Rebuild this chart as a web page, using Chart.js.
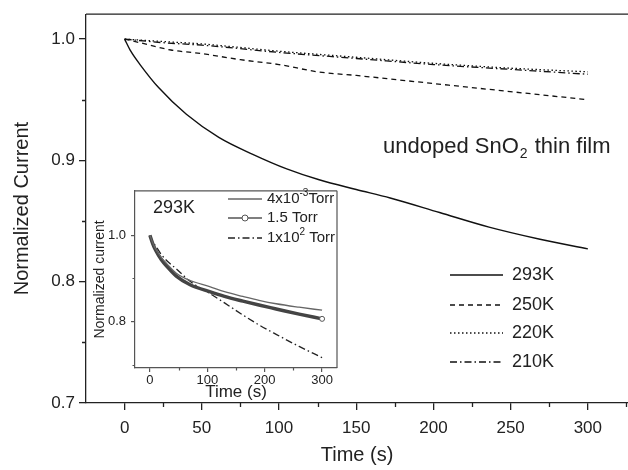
<!DOCTYPE html>
<html>
<head>
<meta charset="utf-8">
<script src="https://cdn.jsdelivr.net/npm/chart.js@4.4.0/dist/chart.umd.min.js"></script>
<style>
  html, body { margin: 0; padding: 0; background: #fff; overflow: hidden; }
  #wrap { position: relative; width: 628px; height: 470px; }
  #main { position: absolute; left: 0; top: 0; }
  #inset { position: absolute; left: 90px; top: 178px; }
</style>
</head>
<body>
<div id="wrap">
  <canvas id="main" width="628" height="470"></canvas>
  <canvas id="inset" width="252" height="226"></canvas>
</div>
<script>
// main plot: normalized current vs time at 4 temperatures
var t293 = [0, 4, 10, 22, 40, 61, 83, 105, 126, 150, 172, 204, 236, 269, 300];
var v293 = [1.0, 0.99, 0.979, 0.96, 0.938, 0.919, 0.905, 0.893, 0.884, 0.876, 0.869, 0.857, 0.845, 0.835, 0.827];
var t250 = [0, 10, 30, 50, 75, 100, 125, 150, 180, 210, 240, 270, 300];
var v250 = [1.0, 0.997, 0.991, 0.988, 0.983, 0.979, 0.973, 0.970, 0.966, 0.962, 0.958, 0.954, 0.950];
var t220 = [0, 25, 50, 100, 150, 200, 250, 300];
var v220 = [1.0, 0.998, 0.996, 0.990, 0.985, 0.980, 0.976, 0.973];
var t210 = [0, 25, 50, 100, 150, 200, 250, 300];
var v210 = [1.0, 0.997, 0.995, 0.989, 0.984, 0.979, 0.975, 0.971];

// inset: 293K at three pressures
var tIns = [0, 5, 10, 20, 30, 46, 70, 104, 130, 162, 190, 220, 260, 300];
var v4e3 = [1.0, 0.982, 0.968, 0.948, 0.933, 0.912, 0.895, 0.881, 0.869, 0.858, 0.849, 0.841, 0.833, 0.826];
var v15 = [1.0, 0.980, 0.965, 0.943, 0.927, 0.905, 0.885, 0.869, 0.858, 0.847, 0.838, 0.829, 0.817, 0.806];
var v1e2 = [1.0, 0.985, 0.975, 0.955, 0.940, 0.922, 0.893, 0.865, 0.843, 0.815, 0.792, 0.770, 0.742, 0.716];

var mainXTicks = [0, 50, 100, 150, 200, 250, 300];
var mainXMinor = [25, 75, 125, 175, 225, 275, 325];
var mainYTicks = [0.7, 0.8, 0.9, 1.0];
var mainYMinor = [0.75, 0.85, 0.95];
var insXTicks = [0, 100, 200, 300];
var insXMinor = [50, 150, 250];
var insYTicks = [0.8, 1.0];
var insYMinor = [0.7, 0.9];

var FONT = "'Liberation Sans', Arial, sans-serif";
var INK = '#222';

function pts(xs, ys) {
  return xs.map(function(x, i) { return {x: x, y: ys[i]}; });
}

// short minor ticks and the extra frame sides
var axisExtras = {
  id: 'axisExtras',
  afterDraw: function(chart, args, o) {
    var ctx = chart.ctx, a = chart.chartArea;
    var xs = chart.scales.x, ys = chart.scales.y;
    ctx.save();
    ctx.strokeStyle = o.color;
    ctx.lineWidth = o.width;
    ctx.beginPath();
    o.xMinor.forEach(function(v) {
      var px = Math.round(xs.getPixelForValue(v)) + 0.5;
      ctx.moveTo(px, a.bottom); ctx.lineTo(px, a.bottom + o.len);
    });
    o.yMinor.forEach(function(v) {
      var py = Math.round(ys.getPixelForValue(v)) + 0.5;
      ctx.moveTo(a.left, py); ctx.lineTo(a.left - o.len, py);
    });
    if (o.top) { ctx.moveTo(a.left, a.top); ctx.lineTo(a.right, a.top); }
    if (o.right) { ctx.moveTo(a.right, a.top); ctx.lineTo(a.right, a.bottom); }
    ctx.stroke();
    ctx.restore();
  }
};

// legend and text drawn inside the plots
var notes = {
  id: 'notes',
  afterDraw: function(chart, args, o) {
    if (o.draw) o.draw(chart, chart.ctx);
  }
};

function legendRow(ctx, ds, x0, x1, y, tx, text, size) {
  ctx.save();
  ctx.strokeStyle = ds.borderColor;
  ctx.lineWidth = ds.borderWidth;
  ctx.setLineDash(ds.borderDash || []);
  ctx.beginPath(); ctx.moveTo(x0, y); ctx.lineTo(x1, y); ctx.stroke();
  ctx.restore();
  ctx.fillStyle = INK;
  ctx.font = size + 'px ' + FONT;
  ctx.textBaseline = 'middle';
  ctx.fillText(text, tx, y);
}

var mainCtx = document.getElementById('main').getContext('2d');
var mainChart = new Chart(mainCtx, {
  type: 'line',
  data: {
    datasets: [
      { label: '293K', data: pts(t293, v293), borderColor: '#111', borderWidth: 1.4 },
      { label: '250K', data: pts(t250, v250), borderColor: '#111', borderWidth: 1.3, borderDash: [5, 4] },
      { label: '220K', data: pts(t220, v220), borderColor: '#111', borderWidth: 1.3, borderDash: [1.5, 2.5] },
      { label: '210K', data: pts(t210, v210), borderColor: '#111', borderWidth: 1.3, borderDash: [7, 3, 1.5, 3] }
    ]
  },
  options: {
    responsive: false,
    animation: false,
    layout: { padding: { top: 12, right: 0, left: 0, bottom: 0 } },
    elements: { point: { radius: 0 }, line: { cubicInterpolationMode: 'monotone', fill: false } },
    scales: {
      x: {
        type: 'linear', min: -25, max: 326,
        afterBuildTicks: function(s) { s.ticks = mainXTicks.map(function(v) { return {value: v}; }); },
        afterFit: function(s) { s.height = 67; },
        grid: { drawOnChartArea: false, tickLength: 7, color: INK, lineWidth: 1.3 },
        border: { color: INK, width: 1.3 },
        ticks: { color: INK, font: { family: FONT, size: 17 }, padding: 8, maxRotation: 0, autoSkip: false,
                 callback: function(v) { return String(v); } },
        title: { display: true, text: 'Time (s)', color: INK, font: { family: FONT, size: 20 }, padding: { top: 0, bottom: 3 } }
      },
      y: {
        type: 'linear', min: 0.7, max: 1.0205,
        afterBuildTicks: function(s) { s.ticks = mainYTicks.map(function(v) { return {value: v}; }); },
        afterFit: function(s) { s.width = 86; },
        grid: { drawOnChartArea: false, tickLength: 7, color: INK, lineWidth: 1.3 },
        border: { color: INK, width: 1.3 },
        ticks: { color: INK, font: { family: FONT, size: 17 }, padding: 4,
                 callback: function(v) { return v.toFixed(1); } },
        title: { display: true, text: 'Normalized Current', color: INK, font: { family: FONT, size: 20 }, padding: { top: 10, bottom: 0 } }
      }
    },
    plugins: {
      legend: { display: false },
      tooltip: { enabled: false },
      axisExtras: { color: INK, width: 1.3, len: 4, xMinor: mainXMinor, yMinor: mainYMinor, top: true, right: false },
      notes: {
        draw: function(chart, ctx) {
          var ds = chart.data.datasets;
          var rows = [275, 305, 333, 362];
          ds.forEach(function(d, i) { legendRow(ctx, d, 450, 503, rows[i], 512, d.label, 18); });
          ctx.fillStyle = INK;
          ctx.textBaseline = 'middle';
          ctx.font = '22px ' + FONT;
          var s1 = 'undoped SnO';
          ctx.fillText(s1, 383, 147);
          var w1 = ctx.measureText(s1).width;
          ctx.font = '14px ' + FONT;
          ctx.fillText('2', 383 + w1 + 1, 154);
          var w2 = ctx.measureText('2').width;
          ctx.font = '22px ' + FONT;
          ctx.fillText(' thin film', 383 + w1 + w2 + 2, 147);
        }
      }
    }
  },
  plugins: [axisExtras, notes]
});

var insCtx = document.getElementById('inset').getContext('2d');
var insChart = new Chart(insCtx, {
  type: 'line',
  data: {
    datasets: [
      { label: '4x10-3Torr', data: pts(tIns, v4e3), borderColor: '#666', borderWidth: 1.3 },
      { label: '1.5 Torr', data: pts(tIns, v15), borderColor: '#444', borderWidth: 3.5,
        pointRadius: tIns.map(function(t, i) { return i === tIns.length - 1 ? 2.5 : 0; }),
        pointBackgroundColor: '#fff', pointBorderColor: '#555', pointBorderWidth: 1 },
      { label: '1x102 Torr', data: pts(tIns, v1e2), borderColor: '#222', borderWidth: 1.3, borderDash: [7, 3, 1.5, 3] }
    ]
  },
  options: {
    responsive: false,
    animation: false,
    layout: { padding: { top: 7, right: 4, left: 0, bottom: 0 } },
    elements: { point: { radius: 0 }, line: { cubicInterpolationMode: 'monotone', fill: false } },
    scales: {
      x: {
        type: 'linear', min: -26, max: 326,
        afterBuildTicks: function(s) { s.ticks = insXTicks.map(function(v) { return {value: v}; }); },
        afterFit: function(s) { s.height = 36; },
        grid: { drawOnChartArea: false, tickLength: 4, color: '#555', lineWidth: 1.2 },
        border: { color: '#555', width: 1.2 },
        ticks: { color: INK, font: { family: FONT, size: 13 }, padding: 1, maxRotation: 0, autoSkip: false,
                 callback: function(v) { return String(v); } },
        title: { display: true, text: 'Time (s)', color: INK, font: { family: FONT, size: 17 }, padding: { top: 0, bottom: 1 } }
      },
      y: {
        type: 'linear', min: 0.692, max: 1.103,
        afterBuildTicks: function(s) { s.ticks = insYTicks.map(function(v) { return {value: v}; }); },
        afterFit: function(s) { s.width = 45; },
        grid: { drawOnChartArea: false, tickLength: 4, color: '#555', lineWidth: 1.2 },
        border: { color: '#555', width: 1.2 },
        ticks: { color: INK, font: { family: FONT, size: 13 }, padding: 5,
                 callback: function(v) { return v.toFixed(1); } },
        title: { display: true, text: 'Normalized current', color: INK, font: { family: FONT, size: 14 }, padding: { top: 2, bottom: 0 } }
      }
    },
    plugins: {
      legend: { display: false },
      tooltip: { enabled: false },
      axisExtras: { color: '#555', width: 1.2, len: 2.5, xMinor: insXMinor, yMinor: insYMinor, top: true, right: true },
      notes: {
        draw: function(chart, ctx) {
          var ds = chart.data.datasets;
          ctx.fillStyle = INK;
          ctx.textBaseline = 'middle';
          ctx.font = '18px ' + FONT;
          ctx.fillText('293K', 63, 30);
          // row 1: 4x10^-3 Torr
          legendRow(ctx, {borderColor: '#666', borderWidth: 1.3}, 138, 172, 21, 177, '4x10', 15);
          var w = ctx.measureText('4x10').width;
          ctx.font = '10px ' + FONT;
          ctx.fillText('-3', 177 + w, 15);
          var w2 = ctx.measureText('-3').width;
          ctx.font = '15px ' + FONT;
          ctx.fillText('Torr', 177 + w + w2, 21);
          // row 2: 1.5 Torr with circle marker
          legendRow(ctx, {borderColor: '#555', borderWidth: 1.3}, 138, 172, 40, 177, '1.5 Torr', 15);
          ctx.beginPath();
          ctx.arc(155, 40, 3, 0, Math.PI * 2);
          ctx.fillStyle = '#fff'; ctx.fill();
          ctx.strokeStyle = '#555'; ctx.lineWidth = 1; ctx.stroke();
          // row 3: 1x10^2 Torr
          legendRow(ctx, ds[2], 138, 172, 60, 177, '1x10', 15);
          w = ctx.measureText('1x10').width;
          ctx.font = '10px ' + FONT;
          ctx.fillText('2', 177 + w, 54);
          w2 = ctx.measureText('2').width;
          ctx.font = '15px ' + FONT;
          ctx.fillText(' Torr', 177 + w + w2, 60);
        }
      }
    }
  },
  plugins: [axisExtras, notes]
});
</script>
</body>
</html>
